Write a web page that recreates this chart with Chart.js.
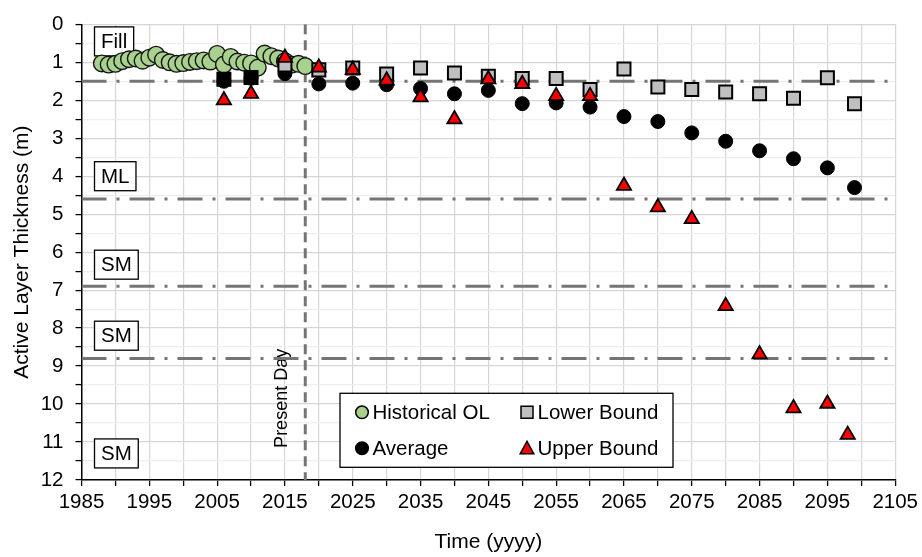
<!DOCTYPE html>
<html>
<head>
<meta charset="utf-8">
<title>Active Layer Thickness</title>
<script src="https://cdn.jsdelivr.net/npm/chart.js@4.4.1/dist/chart.umd.min.js"></script>
<style>
  html, body { margin: 0; padding: 0; background: #ffffff; }
  canvas { display: block; }
</style>
</head>
<body>
<canvas id="chart" width="922" height="557"></canvas>
<script>
// Observed active layer thickness (m)
const historicalYears = [1988, 1989, 1990, 1991, 1992, 1993, 1994, 1995, 1996, 1997, 1998, 1999, 2000, 2001, 2002, 2003,
                         2004, 2005, 2006, 2007, 2008, 2009, 2010, 2011, 2012, 2013, 2014, 2015, 2016, 2017, 2018];
const historicalThickness = [1.03, 1.06, 1.04, 0.97, 0.92, 0.90, 0.96, 0.88, 0.80, 0.94, 1.00, 1.04, 1.02, 0.99, 0.97, 0.95,
                             0.98, 0.78, 1.06, 0.86, 0.98, 1.01, 1.03, 1.14, 0.77, 0.84, 0.90, 0.97, 1.06, 1.04, 1.10];

// Modelled thickness (m)
const projectionYears = [2006, 2010, 2015, 2020, 2025, 2030, 2035, 2040, 2045, 2050,
                         2055, 2060, 2065, 2070, 2075, 2080, 2085, 2090, 2095, 2099];
const averageThickness = [1.50, 1.42, 1.30, 1.57, 1.55, 1.59, 1.69, 1.83, 1.74, 2.09,
                          2.07, 2.18, 2.43, 2.56, 2.86, 3.08, 3.33, 3.54, 3.78, 4.30];
const lowerBoundThickness = [1.45, 1.40, 1.07, 1.20, 1.15, 1.31, 1.15, 1.28, 1.37, 1.43,
                             1.43, 1.72, 1.18, 1.65, 1.72, 1.78, 1.83, 1.95, 1.41, 2.09];
const upperBoundYears = [2006, 2010, 2015, 2020, 2025, 2030, 2035, 2040, 2045, 2050,
                         2055, 2060, 2065, 2070, 2075, 2080, 2085, 2090, 2095, 2098];
const upperBoundThickness = [2.00, 1.83, 0.88, 1.14, 1.20, 1.48, 1.92, 2.50, 1.45, 1.57,
                             1.89, 1.89, 4.25, 4.82, 5.13, 7.42, 8.69, 10.11, 9.99, 10.81];

// Stratigraphic units and their lower boundaries (m)
const unitBoundaries = [1.5, 4.6, 6.9, 8.8];
const unitNames = ['Fill', 'ML', 'SM', 'SM', 'SM'];
const unitLabelDepths = [0.45, 4.0, 6.33, 8.2, 11.3];

const presentDayYear = 2018;
const presentDayLabel = 'Present Day';

// Axis ticks
const xTickYears = [1985, 1995, 2005, 2015, 2025, 2035, 2045, 2055, 2065, 2075, 2085, 2095, 2105];
const yTickDepths = [0, 1, 2, 3, 4, 5, 6, 7, 8, 9, 10, 11, 12];

const FONT = '"Liberation Sans", Arial, Helvetica, sans-serif';
const REF_GREY = '#777474';

const toPoints = (xs, ys) => xs.map((v, i) => ({ x: v, y: ys[i] }));
const xMin = xTickYears[0], xMax = xTickYears[xTickYears.length - 1];
const yMin = yTickDepths[0], yMax = yTickDepths[yTickDepths.length - 1];

const datasets = [
  {
    label: 'Upper Bound',
    data: toPoints(upperBoundYears, upperBoundThickness),
    pointStyle: 'triangle', pointRadius: 8.2,
    backgroundColor: '#ff0000', borderColor: '#000000', borderWidth: 1.8
  },
  {
    label: 'Lower Bound',
    data: toPoints(projectionYears, lowerBoundThickness),
    pointStyle: 'rect', pointRadius: 9.2,
    // early (measured-period) points are shown filled black
    backgroundColor: ctx => (ctx.raw && ctx.raw.x < 2012 ? '#000000' : '#bfbfbf'),
    borderColor: '#000000', borderWidth: 2
  },
  {
    label: 'Average',
    data: toPoints(projectionYears, averageThickness),
    pointStyle: 'circle', pointRadius: 7,
    backgroundColor: '#000000', borderColor: '#000000', borderWidth: 1
  },
  {
    label: 'Historical OL',
    data: toPoints(historicalYears, historicalThickness),
    pointStyle: 'circle', pointRadius: 8.3,
    backgroundColor: '#a9d18e', borderColor: '#141414', borderWidth: 1.4
  },
  {
    type: 'line', label: 'present',
    data: [{ x: presentDayYear, y: yMin }, { x: presentDayYear, y: yMax }],
    borderColor: REF_GREY, borderWidth: 3, borderDash: [10, 6],
    pointRadius: 0, showLine: true, fill: false
  },
  ...unitBoundaries.map(d => ({
    type: 'line', label: 'boundary',
    data: [{ x: xMin, y: d }, { x: xMax, y: d }],
    borderColor: REF_GREY, borderWidth: 3, borderDash: [25, 10, 3, 10],
    pointRadius: 0, showLine: true, fill: false
  }))
];

// Draws a legend marker in the same shapes as the data points
function drawMarker(ctx, style, cx, cy, fill) {
  ctx.save();
  ctx.fillStyle = fill;
  ctx.strokeStyle = '#000000';
  ctx.lineWidth = 1.5;
  ctx.beginPath();
  if (style === 'circle') {
    ctx.arc(cx, cy, 6.3, 0, Math.PI * 2);
  } else if (style === 'rect') {
    ctx.rect(cx - 6, cy - 6, 12, 12);
  } else {
    ctx.moveTo(cx, cy - 7);
    ctx.lineTo(cx + 6.8, cy + 5.5);
    ctx.lineTo(cx - 6.8, cy + 5.5);
    ctx.closePath();
  }
  ctx.fill();
  ctx.stroke();
  ctx.restore();
}

const annotations = {
  id: 'annotations',
  beforeDatasetsDraw(chart) {
    const { ctx, chartArea: area, scales: { x, y } } = chart;
    ctx.save();
    // unit name boxes
    ctx.font = '20.5px ' + FONT;
    ctx.textBaseline = 'middle';
    ctx.textAlign = 'left';
    unitNames.forEach((name, i) => {
      const cy = y.getPixelForValue(unitLabelDepths[i]);
      const left = area.left + 13;
      const w = ctx.measureText(name).width + 13;
      const h = 29;
      ctx.fillStyle = '#ffffff';
      ctx.fillRect(left, cy - h / 2, w, h);
      ctx.strokeStyle = '#000000';
      ctx.lineWidth = 1.3;
      ctx.strokeRect(left, cy - h / 2, w, h);
      ctx.fillStyle = '#000000';
      ctx.fillText(name, left + 6.5, cy + 1);
    });
    // present-day caption
    ctx.translate(x.getPixelForValue(presentDayYear) - 23, y.getPixelForValue(9.85));
    ctx.rotate(-Math.PI / 2);
    ctx.font = '18px ' + FONT;
    ctx.textAlign = 'center';
    ctx.fillStyle = '#000000';
    ctx.fillText(presentDayLabel, 0, 0);
    ctx.restore();
  },
  afterDatasetsDraw(chart) {
    const { ctx, chartArea: area } = chart;
    const lx = area.left + 258.5, ly = area.top + 369, lw = 333, lh = 74;
    ctx.save();
    ctx.fillStyle = '#ffffff';
    ctx.fillRect(lx, ly, lw, lh);
    ctx.strokeStyle = '#000000';
    ctx.lineWidth = 1.3;
    ctx.strokeRect(lx, ly, lw, lh);
    const order = ['Historical OL', 'Lower Bound', 'Average', 'Upper Bound'];
    ctx.font = '20.5px ' + FONT;
    ctx.textBaseline = 'middle';
    ctx.textAlign = 'left';
    order.forEach((label, i) => {
      const ds = chart.data.datasets.find(d => d.label === label);
      const col = i % 2, row = Math.floor(i / 2);
      const mx = lx + (col === 0 ? 22 : 187);
      const my = ly + (row === 0 ? 19 : 55);
      const fill = label === 'Lower Bound' ? '#bfbfbf' : ds.backgroundColor;
      drawMarker(ctx, ds.pointStyle, mx, my, fill);
      ctx.fillStyle = '#000000';
      ctx.fillText(label, mx + 10.5, my + 1);
    });
    ctx.restore();
  }
};

new Chart(document.getElementById('chart'), {
  type: 'scatter',
  data: { datasets },
  plugins: [annotations],
  options: {
    responsive: false,
    animation: false,
    devicePixelRatio: 1,
    layout: { padding: { left: 0, right: 25, top: 19.3, bottom: 0 } },
    plugins: { legend: { display: false }, tooltip: { enabled: false } },
    scales: {
      x: {
        type: 'linear', min: xMin, max: xMax,
        afterFit(scale) { scale.height = 77; },
        ticks: {
          stepSize: 5, autoSkip: false, maxRotation: 0, padding: 4,
          color: '#000000', font: { family: FONT, size: 20.5 },
          callback: v => (xTickYears.includes(v) ? String(v) : '')
        },
        grid: { color: '#d6d6d6', lineWidth: 1.2, tickColor: '#000000', tickLength: 6, tickWidth: 1.3 },
        border: { color: '#000000', width: 1.5 },
        title: {
          display: true, text: 'Time (yyyy)', color: '#000000',
          font: { family: FONT, size: 21 }, padding: { top: 0, bottom: 2 }
        }
      },
      y: {
        type: 'linear', min: yMin, max: yMax, reverse: true,
        afterFit(scale) { scale.width = 81.5; },
        ticks: {
          stepSize: 0.5, autoSkip: false, padding: 12,
          color: '#000000', font: { family: FONT, size: 20.5 },
          callback: v => (yTickDepths.includes(v) ? String(v) : '')
        },
        grid: {
          color: ctx => (ctx.tick && Number.isInteger(ctx.tick.value) ? '#d6d6d6' : '#eeeeee'),
          lineWidth: 1.2, tickColor: '#000000', tickLength: 6, tickWidth: 1.3
        },
        border: { color: '#000000', width: 1.5 },
        title: {
          display: true, text: 'Active Layer Thickness (m)', color: '#000000',
          font: { family: FONT, size: 21 }, padding: { top: 10, bottom: 0 }
        }
      }
    }
  }
});
</script>
</body>
</html>
